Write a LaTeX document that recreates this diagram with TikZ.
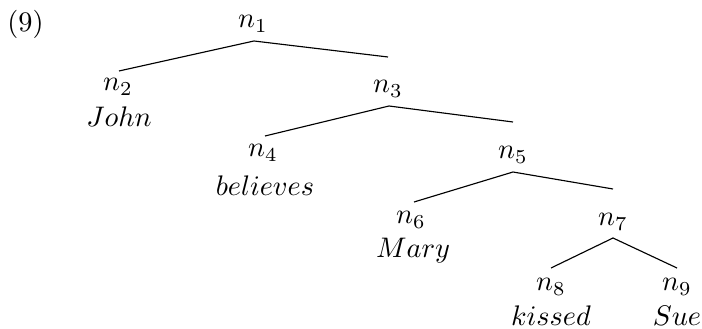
\documentclass[tikz,border=0pt]{standalone}
\begin{document}
\begin{tikzpicture}[x=0.3533pt,y=-0.3533pt,
  lbl/.style={anchor=base,inner sep=0pt,font=\fontsize{10}{12}\selectfont},
  edge/.style={line width=0.4pt}]
\useasboundingbox (0,0) rectangle (702,329);
\node[lbl] (ex) at (25.5,32) {(9)};
% labels
\node[lbl] (n1) at (253,28) {$n_1$};
\node[lbl] (n2) at (118,91) {$n_2$};
\node[lbl] (w2) at (119,127) {$John$};
\node[lbl] (n3) at (388,93) {$n_3$};
\node[lbl] (n4) at (263,157) {$n_4$};
\node[lbl] (w4) at (265,196) {$believes$};
\node[lbl] (n5) at (513,159) {$n_5$};
\node[lbl] (n6) at (411,224) {$n_6$};
\node[lbl] (w6) at (413,257) {$Mary$};
\node[lbl] (n7) at (613,226) {$n_7$};
\node[lbl] (n8) at (551,291) {$n_8$};
\node[lbl] (w8) at (551,325) {$kissed$};
\node[lbl] (n9) at (677,291) {$n_9$};
\node[lbl] (w9) at (677,325) {$Sue$};
% connector points
\coordinate (a1) at (254,41);
\coordinate (e2) at (119,71);
\coordinate (e3) at (388,57);
\coordinate (a3) at (389,106);
\coordinate (e4) at (265,136);
\coordinate (e5) at (513,122);
\coordinate (a5) at (513,172);
\coordinate (e6) at (414,202);
\coordinate (e7) at (613,189);
\coordinate (a7) at (613,238);
\coordinate (e8) at (551,268);
\coordinate (e9) at (677,268);
\draw[edge] (e2) -- (a1) -- (e3);
\draw[edge] (e4) -- (a3) -- (e5);
\draw[edge] (e6) -- (a5) -- (e7);
\draw[edge] (e8) -- (a7) -- (e9);
\end{tikzpicture}
\end{document}
